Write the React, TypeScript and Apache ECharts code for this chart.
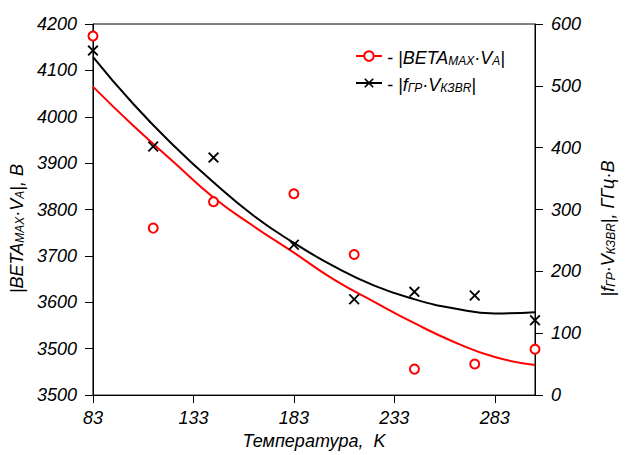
import React, { useEffect, useRef } from "react";
import * as echarts from "echarts";

// Measured points
const temps = [83, 113, 143, 183, 213, 243, 273, 303];
const betaValues = [4174, 3760, 3817, 3834, 3703, 3456, 3467, 3499];
const fValues = [557, 402, 384, 243, 155, 167, 161, 121];

// Fit curves
const fitTemps = [83, 103, 123, 143, 163, 183, 203, 223, 243, 263, 283, 303];
const betaFit = [4065, 3981, 3903, 3826, 3764, 3707, 3649, 3601, 3555, 3514, 3482, 3465];
const fFit = [547, 471, 404, 344, 290, 246, 208, 177, 155, 140, 132, 134];

// Axis ticks
const xTicks = [83, 133, 183, 233, 283];

const FONT = "Liberation Sans";

const crossPath =
  "path://M0,1.2 L1.2,0 L5,3.8 L8.8,0 L10,1.2 L6.2,5 L10,8.8 L8.8,10 L5,6.2 L1.2,10 L0,8.8 L3.8,5 Z";

const rich = {
  t: { fontFamily: FONT, fontStyle: "italic", fontSize: 18, color: "#000", lineHeight: 22, verticalAlign: "bottom" },
  s: { fontFamily: FONT, fontStyle: "italic", fontSize: 12, color: "#000", lineHeight: 14, verticalAlign: "bottom" },
};

export default function App() {
  const ref = useRef<HTMLDivElement>(null);
  useEffect(() => {
    if (!ref.current) return;
    const chart = echarts.init(ref.current, undefined, { renderer: "svg" });
    const tickLabelStyle = {
      fontFamily: FONT,
      fontStyle: "italic" as const,
      fontSize: 18,
      color: "#000",
    };
    chart.setOption({
      animation: false,
      backgroundColor: "#fff",
      grid: {
        left: 89,
        right: 84,
        top: 24,
        bottom: 57,
        show: true,
        borderColor: "#000",
        borderWidth: 1,
      },
      legend: {
        orient: "vertical",
        left: 350,
        top: 44,
        itemWidth: 26,
        itemHeight: 12,
        itemGap: 9,
        selectedMode: false,
        data: [
          { name: "beta", lineStyle: { color: "#ff0000", width: 2, opacity: 1 } },
          { name: "f", lineStyle: { color: "#000", width: 2, opacity: 1 } },
        ],
        formatter: (name: string) =>
          name === "beta"
            ? "{t|- |BETA}{s|MAX}{t|·V}{s|A}{t||}"
            : "{t|- |f}{s|ГР}{t|·V}{s|КЗВR}{t||}",
        textStyle: { rich },
      },
      xAxis: {
        type: "value",
        min: 83,
        max: 303,
        interval: 50,
        name: "Температура,  K",
        nameLocation: "middle",
        nameGap: 33,
        nameTextStyle: { ...tickLabelStyle },
        axisLine: { lineStyle: { color: "#000", width: 1 } },
        axisTick: { show: true, length: 8, inside: false, customValues: xTicks, lineStyle: { color: "#000" } },
        axisLabel: { ...tickLabelStyle, margin: 14, customValues: xTicks },
        splitLine: { show: false },
      },
      yAxis: [
        {
          type: "value",
          min: 3400,
          max: 4200,
          interval: 100,
          position: "left",
          name: "{t||BETA}{s|MAX}{t|·V}{s|A}{t||, B}",
          nameLocation: "middle",
          nameRotate: 90,
          nameGap: 58,
          nameTextStyle: { rich, padding: [0, 38, 0, 0] },
          axisLine: { show: true, lineStyle: { color: "#000", width: 1 } },
          axisTick: { show: true, length: 8, lineStyle: { color: "#000" } },
          axisLabel: {
            ...tickLabelStyle,
            margin: 16,
            formatter: (v: number) => (v === 3400 ? "3500" : String(v)),
          },
          splitLine: { show: false },
        },
        {
          type: "value",
          min: 0,
          max: 600,
          interval: 100,
          position: "right",
          name: "{t||f}{s|ГР}{t|·V}{s|КЗВR}{t||, ГГц·В}",
          nameLocation: "middle",
          nameRotate: 90,
          nameGap: 60,
          nameTextStyle: { rich, padding: [0, 38, 0, 0] },
          axisLine: { show: true, lineStyle: { color: "#000", width: 1 } },
          axisTick: { show: true, length: 8, lineStyle: { color: "#000" } },
          axisLabel: { ...tickLabelStyle, margin: 16 },
          splitLine: { show: false },
        },
      ],
      series: [
        {
          name: "betaFit",
          type: "line",
          yAxisIndex: 0,
          smooth: true,
          showSymbol: false,
          symbol: "none",
          lineStyle: { color: "#ff0000", width: 2 },
          data: fitTemps.map((t, i) => [t, betaFit[i]]),
          z: 2,
        },
        {
          name: "fFit",
          type: "line",
          yAxisIndex: 1,
          smooth: true,
          showSymbol: false,
          symbol: "none",
          lineStyle: { color: "#000", width: 2 },
          data: fitTemps.map((t, i) => [t, fFit[i]]),
          z: 2,
        },
        {
          name: "beta",
          type: "line",
          yAxisIndex: 0,
          symbol: "circle",
          symbolSize: 9,
          showSymbol: true,
          lineStyle: { opacity: 0, color: "#ff0000" },
          itemStyle: { color: "#fff", borderColor: "#ff0000", borderWidth: 2 },
          data: temps.map((t, i) => [t, betaValues[i]]),
          z: 3,
        },
        {
          name: "f",
          type: "line",
          yAxisIndex: 1,
          symbol: crossPath,
          symbolSize: 11,
          showSymbol: true,
          lineStyle: { opacity: 0, color: "#000" },
          itemStyle: { color: "#000", borderWidth: 0 },
          data: temps.map((t, i) => [t, fValues[i]]),
          z: 3,
        },
      ],
    });
    return () => chart.dispose();
  }, []);
  return (
    <div
      ref={ref}
      style={{ position: "fixed", left: 0, top: 0, width: 625, height: 455, background: "#fff" }}
    />
  );
}
